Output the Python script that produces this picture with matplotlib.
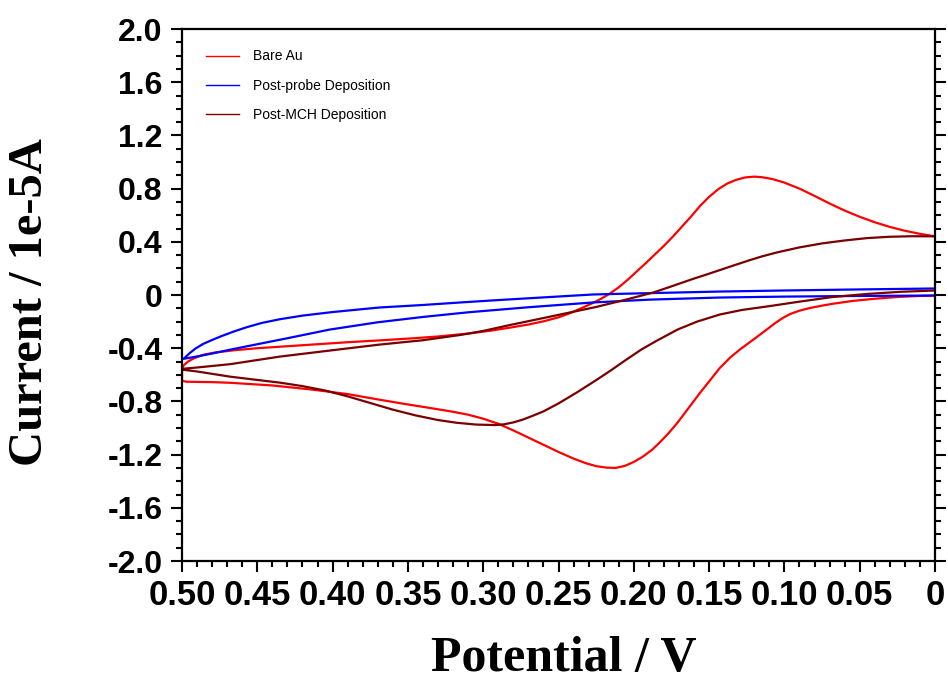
import numpy as np
import matplotlib
matplotlib.use('Agg')
import matplotlib.pyplot as plt
from matplotlib.ticker import MultipleLocator, FuncFormatter

# Bare Au: верхняя ветвь от 0 В к 0.5 В, затем нижняя обратно
bare_v = [0.000, 0.010, 0.020, 0.030, 0.040, 0.050, 0.060, 0.070, 0.080, 0.090,
          0.100, 0.108, 0.115, 0.120, 0.126, 0.132, 0.138, 0.144, 0.150, 0.156,
          0.162, 0.168, 0.174, 0.180, 0.186, 0.192, 0.198, 0.204, 0.210, 0.216,
          0.222, 0.228, 0.235, 0.242, 0.250, 0.260, 0.270, 0.282, 0.295, 0.310,
          0.330, 0.350, 0.370, 0.390, 0.410, 0.430, 0.450, 0.465, 0.478, 0.486,
          0.492, 0.496, 0.499, 0.500,
          0.500, 0.497, 0.480, 0.468, 0.440, 0.413, 0.390, 0.369, 0.350, 0.335,
          0.320, 0.310, 0.300, 0.290, 0.280, 0.270, 0.260, 0.250, 0.240, 0.232,
          0.225, 0.218, 0.212, 0.206, 0.200, 0.194, 0.188, 0.183, 0.177, 0.171,
          0.166, 0.161, 0.156, 0.150, 0.143, 0.136, 0.129, 0.120, 0.112, 0.106,
          0.101, 0.096, 0.090, 0.084, 0.076, 0.068, 0.055, 0.040, 0.025, 0.010,
          0.000]
bare_i = [0.441, 0.460, 0.483, 0.512, 0.547, 0.588, 0.635, 0.688, 0.745, 0.800,
          0.845, 0.872, 0.886, 0.890, 0.884, 0.866, 0.838, 0.795, 0.738, 0.670,
          0.590, 0.515, 0.440, 0.370, 0.305, 0.240, 0.178, 0.115, 0.058, 0.010,
          -0.030, -0.064, -0.100, -0.135, -0.168, -0.198, -0.222, -0.245, -0.268, -0.290,
          -0.312, -0.328, -0.342, -0.355, -0.370, -0.385, -0.400, -0.415, -0.432, -0.450,
          -0.475, -0.500, -0.530, -0.560,
          -0.645, -0.652, -0.655, -0.660, -0.680, -0.712, -0.745, -0.787, -0.823, -0.850,
          -0.878, -0.900, -0.930, -0.968, -1.018, -1.072, -1.126, -1.180, -1.230, -1.264,
          -1.287, -1.298, -1.300, -1.285, -1.255, -1.215, -1.165, -1.111, -1.040, -0.960,
          -0.885, -0.810, -0.735, -0.650, -0.550, -0.470, -0.405, -0.330, -0.262, -0.210,
          -0.172, -0.142, -0.118, -0.100, -0.082, -0.066, -0.045, -0.028, -0.015, -0.007,
          -0.004]

# Post-probe Deposition
probe_v = [0.000, 0.050, 0.100, 0.143, 0.190, 0.227, 0.260, 0.290, 0.315, 0.340,
           0.369, 0.400, 0.420, 0.435, 0.447, 0.457, 0.466, 0.474, 0.480, 0.486,
           0.491, 0.495, 0.499,
           0.494, 0.490, 0.480, 0.468, 0.450, 0.430, 0.402, 0.370, 0.340, 0.310,
           0.270, 0.227, 0.190, 0.143, 0.100, 0.050, 0.000]
probe_i = [0.049, 0.042, 0.034, 0.026, 0.014, 0.004, -0.018, -0.038, -0.056, -0.075,
           -0.094, -0.128, -0.155, -0.182, -0.210, -0.242, -0.276, -0.310, -0.338, -0.368,
           -0.402, -0.438, -0.480,
           -0.470, -0.462, -0.440, -0.411, -0.370, -0.325, -0.260, -0.205, -0.165, -0.130,
           -0.092, -0.056, -0.035, -0.019, -0.012, -0.007, -0.004]

# Post-MCH Deposition
mch_v = [0.000, 0.015, 0.030, 0.045, 0.060, 0.075, 0.090, 0.105, 0.115, 0.123,
         0.133, 0.143, 0.152, 0.161, 0.175, 0.187, 0.205, 0.225, 0.249, 0.265,
         0.282, 0.300, 0.315, 0.340, 0.369, 0.400, 0.435, 0.468, 0.490, 0.499,
         0.500,
         0.490, 0.468, 0.435, 0.420, 0.405, 0.390, 0.375, 0.360, 0.345, 0.330,
         0.318, 0.305, 0.292, 0.286, 0.280, 0.274, 0.268, 0.260, 0.250, 0.238,
         0.225, 0.215, 0.205, 0.195, 0.185, 0.171, 0.158, 0.143, 0.128, 0.112,
         0.090, 0.068, 0.045, 0.023, 0.000]
mch_i = [0.441, 0.442, 0.438, 0.428, 0.410, 0.388, 0.358, 0.320, 0.290, 0.262,
         0.225, 0.187, 0.153, 0.120, 0.065, 0.019, -0.034, -0.090, -0.147, -0.185,
         -0.225, -0.270, -0.300, -0.340, -0.373, -0.415, -0.463, -0.520, -0.545, -0.554,
         -0.561,
         -0.575, -0.614, -0.659, -0.685, -0.718, -0.762, -0.812, -0.862, -0.905, -0.940,
         -0.960, -0.974, -0.978, -0.972, -0.958, -0.938, -0.912, -0.875, -0.815, -0.734,
         -0.640, -0.565, -0.486, -0.410, -0.345, -0.260, -0.200, -0.147, -0.112, -0.087,
         -0.050, -0.015, 0.008, 0.024, 0.034]

y_ticks = [-2.0, -1.6, -1.2, -0.8, -0.4, 0, 0.4, 0.8, 1.2, 1.6, 2.0]
x_ticks = [0.50, 0.45, 0.40, 0.35, 0.30, 0.25, 0.20, 0.15, 0.10, 0.05, 0]

fig = plt.figure(figsize=(9.48, 6.81), dpi=100)
ax = fig.add_axes([0.192, 0.1762, 0.7943, 0.7812])

ax.plot(bare_v, bare_i, color='#ff0000', lw=1.6, label='Bare Au')
ax.plot(probe_v, probe_i, color='#0000ff', lw=1.6, label='Post-probe Deposition')
ax.plot(mch_v, mch_i, color='#7a0000', lw=1.6, label='Post-MCH Deposition')

ax.set_xlim(0.5, 0.0)
ax.set_ylim(-2.0, 2.0)

ax.set_xticks(x_ticks)
ax.set_yticks(y_ticks)
ax.xaxis.set_minor_locator(MultipleLocator(0.01))
ax.yaxis.set_minor_locator(MultipleLocator(0.1))

def fmt_x(v, pos):
    return '0' if abs(v) < 1e-9 else f'{v:.2f}'

def fmt_y(v, pos):
    return '0' if abs(v) < 1e-9 else f'{v:.1f}'

ax.xaxis.set_major_formatter(FuncFormatter(fmt_x))
ax.yaxis.set_major_formatter(FuncFormatter(fmt_y))

ax.tick_params(axis='both', which='both', direction='out', width=1.5)
ax.tick_params(axis='both', which='major', length=8)
ax.tick_params(axis='both', which='minor', length=4)
ax.tick_params(axis='y', which='both', left=True, right=True)
ax.tick_params(axis='x', which='both', top=False)
ax.tick_params(axis='x', which='major', pad=5)
ax.tick_params(axis='y', which='major', pad=6)

for lbl in ax.get_xticklabels():
    lbl.set_fontfamily('Liberation Sans')
    lbl.set_fontweight('bold')
    lbl.set_fontsize(25)
for lbl in ax.get_yticklabels():
    lbl.set_fontfamily('Liberation Sans')
    lbl.set_fontweight('bold')
    lbl.set_fontsize(23)

for s in ax.spines.values():
    s.set_linewidth(1.6)

fig.text(0.595, 0.014, 'Potential / V', ha='center', va='baseline',
         fontfamily='Liberation Serif', fontweight='bold', fontsize=36)
fig.text(0.032, 0.556, 'Current / 1e-5A', ha='center', va='center', rotation=90,
         fontfamily='Liberation Serif', fontweight='bold', fontsize=35)

leg = ax.legend(loc='upper left', frameon=False,
                prop={'family': 'Liberation Sans', 'size': 10},
                handlelength=2.4, handletextpad=1.0, labelspacing=1.1,
                bbox_to_anchor=(0.015, 0.985))
for h in leg.legend_handles:
    h.set_linewidth(1.0)

fig.savefig('out.png', dpi=100)
